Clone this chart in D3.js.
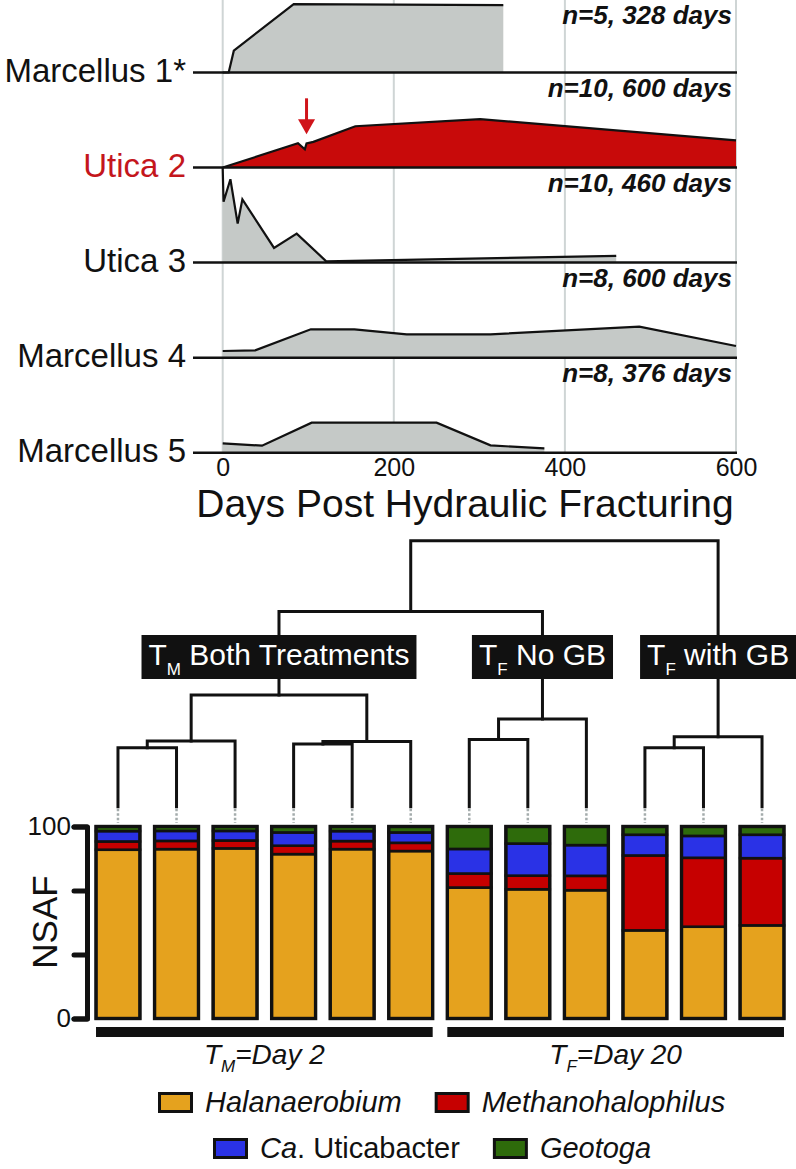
<!DOCTYPE html>
<html><head><meta charset="utf-8">
<script src="https://cdn.jsdelivr.net/npm/d3@7"></script>
<style>
html,body{margin:0;padding:0;background:#fff;}
svg{display:block;font-family:"Liberation Sans",Arial,Helvetica,sans-serif;}
</style></head><body>
<svg id="chart" width="796" height="1169"></svg>
<script>
// ---------------- top panel data ----------------
const ridgeNames = ["Marcellus 1*", "Utica 2", "Utica 3", "Marcellus 4", "Marcellus 5"];
const ridgeNotes = ["n=5, 328 days", "n=10, 600 days", "n=10, 460 days", "n=8, 600 days", "n=8, 376 days"];
const ridgeHighlight = [false, true, false, false, false];
const marcellus1 = [[0,0],[7,0],[13,23],[83,72],[328,71]];
const utica2 = [[0,0],[88,25.6],[96,19.3],[98,25.5],[106,27],[155,43.5],[301,51],[600,28.7]];
const utica3 = [[0,99.7],[1,64],[9,87.7],[17.5,41],[23,66.6],[60,15.5],[86.5,30.5],[121,1.4],[460,7]];
const marcellus4 = [[0,7],[38,7.7],[103,29.8],[154,29.8],[215,24.5],[313,24.5],[487,32.6],[600,12.3]];
const marcellus5 = [[0,9.8],[46,7.4],[104,31.6],[250,31.6],[313,7.7],[376,4.5]];
const ridgeSeries = [marcellus1, utica2, utica3, marcellus4, marcellus5];
const dayTicks = [0, 200, 400, 600];
const arrowDay = 98;
const xTitle = "Days Post Hydraulic Fracturing";

// ---------------- bottom panel data ----------------
const samples = ["M1","M2","M3","M4","M5","M6","F1","F2","F3","G1","G2","G3"];
const taxa = ["Halanaerobium","Methanohalophilus","Uticabacter","Geotoga"];
const halanaerobium     = [87.9, 88.2, 88.6, 85.6, 88.2, 87.2, 68.2, 67.3, 66.8, 45.9, 47.8, 48.5];
const methanohalophilus = [ 4.3,  4.3,  4.1,  4.4,  4.2,  4.3,  7.3,  7.1,  7.5, 39.0, 35.9, 35.0];
const uticabacter       = [ 5.4,  5.2,  5.0,  6.9,  5.2,  5.4, 12.8, 16.7, 16.0, 10.8, 11.4, 12.2];
const geotoga           = [ 2.4,  2.3,  2.3,  3.1,  2.4,  3.1, 11.7,  8.9,  9.7,  4.3,  4.9,  4.3];
const taxaColors = ["#e5a21e", "#c60000", "#2a32e6", "#2e6b0b"];
const nsafTicks = [0, 100/3, 200/3, 100];
const nsafLabels = ["0", "", "", "100"];
const groupMain = ["T", "T"];
const groupSub = ["M", "F"];
const groupRest = ["=Day 2", "=Day 20"];
const groupFirst = ["M1", "F1"];
const groupLast = ["M6", "G3"];
// dendrogram (merge heights, relative distance)
const tree = {h:1.0, children:[
  {h:0.734, children:[
    {h:0.42, label:["T","M"," Both Treatments"], children:[
      {h:0.247, children:[{h:0.222, children:[{leaf:"M1"},{leaf:"M2"}]},{leaf:"M3"}]},
      {h:0.245, children:[{h:0.236, children:[{leaf:"M4"},{leaf:"M5"}]},{leaf:"M6"}]}
    ]},
    {h:0.33, label:["T","F"," No GB"], children:[
      {h:0.253, children:[{leaf:"F1"},{leaf:"F2"}]},{leaf:"F3"}
    ]}
  ]},
  {h:0.263, label:["T","F"," with GB"], children:[
    {h:0.222, children:[{leaf:"G1"},{leaf:"G2"}]},{leaf:"G3"}
  ]}
]};
const legendRows = [
  [{k:0, parts:[["Halanaerobium","italic"]]}, {k:1, parts:[["Methanohalophilus","italic"]]}],
  [{k:2, parts:[["Ca","italic"],[". Uticabacter","normal"]]}, {k:3, parts:[["Geotoga","italic"]]}]
];

// ---------------- drawing ----------------
const svg = d3.select("#chart");
const INK = "#111";

// ===== ridgeline panel =====
const x = d3.scaleLinear().domain([0, 600]).range([222.7, 736]);
const yBase = d3.scalePoint().domain(ridgeNames).range([72.5, 452.7]);
const yH = d3.scaleLinear().domain([0, 100]).range([0, 95]);

const topG = svg.append("g");
topG.selectAll("line.grid").data(dayTicks).join("line")
  .attr("x1", d => x(d)).attr("x2", d => x(d))
  .attr("y1", 0).attr("y2", yBase(ridgeNames[4]))
  .attr("stroke", "#cfd5d5").attr("stroke-width", 2);

ridgeNames.forEach((name, i) => {
  const b = yBase(name);
  const data = ridgeSeries[i];
  const area = d3.area().x(d => x(d[0])).y0(b).y1(d => b - yH(d[1]));
  const line = d3.line().x(d => x(d[0])).y(d => b - yH(d[1]));
  topG.append("path").attr("d", area(data))
    .attr("fill", ridgeHighlight[i] ? "#c80a0a" : "#c5c9c7");
  topG.append("path").attr("d", line(data))
    .attr("fill", "none").attr("stroke", INK).attr("stroke-width", 2.2)
    .attr("stroke-linejoin", "miter");
  topG.append("line").attr("x1", 193).attr("x2", 737).attr("y1", b).attr("y2", b)
    .attr("stroke", INK).attr("stroke-width", 2.5);
  topG.append("text").attr("x", 186).attr("y", b + 9)
    .attr("text-anchor", "end").attr("font-size", 33)
    .attr("fill", ridgeHighlight[i] ? "#c4161c" : INK).text(name);
  topG.append("text").attr("x", 732).attr("y", Math.max(b - 71, 24))
    .attr("text-anchor", "end").attr("font-size", 26)
    .attr("font-weight", "bold").attr("font-style", "italic")
    .attr("fill", INK).text(ridgeNotes[i]);
});

// red arrow over Utica 2
{
  const b = yBase(ridgeNames[1]);
  const pt = utica2.find(d => d[0] === arrowDay);
  const ax = x(arrowDay), tip = b - yH(pt[1]) - 9;
  topG.append("line").attr("x1", ax).attr("x2", ax).attr("y1", tip - 36).attr("y2", tip - 12)
    .attr("stroke", "#d0141a").attr("stroke-width", 3);
  topG.append("path").attr("d", `M${ax-8.5},${tip-15}L${ax+8.5},${tip-15}L${ax},${tip}Z`)
    .attr("fill", "#d0141a");
}

const xAxis = topG.append("g").attr("transform", `translate(0,${yBase(ridgeNames[4])})`)
  .call(d3.axisBottom(x).tickValues(dayTicks).tickSize(0).tickPadding(5.5).tickFormat(d3.format("d")));
xAxis.select(".domain").remove();
xAxis.selectAll("text").attr("font-size", 25).attr("fill", INK)
  .attr("font-family", "Liberation Sans, Arial, sans-serif");

topG.append("text").attr("x", 465).attr("y", 517).attr("text-anchor", "middle")
  .attr("font-size", 39).attr("fill", INK).text(xTitle);

// ===== bar panel =====
const xb = d3.scaleBand().domain(samples).range([88.7, 791.3]).paddingInner(0.25).paddingOuter(0.125);
const yB = d3.scaleLinear().domain([0, 100]).range([1018.5, 826.5]);
const bw = xb.bandwidth();
const cx = s => xb(s) + bw / 2;

const rows = samples.map((s, i) => ({sample: s,
  Halanaerobium: halanaerobium[i], Methanohalophilus: methanohalophilus[i],
  Uticabacter: uticabacter[i], Geotoga: geotoga[i]}));
const stacked = d3.stack().keys(taxa)(rows);
const color = d3.scaleOrdinal().domain(taxa).range(taxaColors);

const bars = svg.append("g");
bars.selectAll("g.layer").data(stacked).join("g").attr("fill", d => color(d.key))
  .selectAll("rect").data(d => d).join("rect")
  .attr("x", d => xb(d.data.sample)).attr("width", bw)
  .attr("y", d => yB(d[1])).attr("height", d => yB(d[0]) - yB(d[1]))
  .attr("stroke", INK).attr("stroke-width", 2.6);
bars.selectAll("rect.outline").data(samples).join("rect").attr("class", "outline")
  .attr("x", d => xb(d)).attr("width", bw).attr("y", yB(100)).attr("height", yB(0) - yB(100))
  .attr("fill", "none").attr("stroke", INK).attr("stroke-width", 3.4);

// NSAF axis
const yAxis = svg.append("g").attr("transform", "translate(87,0)")
  .call(d3.axisLeft(yB).tickValues(nsafTicks).tickSize(13).tickSizeOuter(13).tickPadding(3)
    .tickFormat((d, i) => nsafLabels[i]));
yAxis.select(".domain").attr("stroke", INK).attr("stroke-width", 5)
  .attr("stroke-linecap", "round").attr("stroke-linejoin", "round");
yAxis.selectAll(".tick line").attr("stroke", INK).attr("stroke-width", 5).attr("stroke-linecap", "round");
yAxis.selectAll("text").attr("font-size", 26).attr("fill", INK)
  .attr("font-family", "Liberation Sans, Arial, sans-serif");
svg.append("text").attr("transform", "translate(57,922) rotate(-90)")
  .attr("text-anchor", "middle").attr("font-size", 35).attr("fill", INK).text("NSAF");

// group bars + labels
groupMain.forEach((g, i) => {
  const x0 = xb(groupFirst[i]), x1 = xb(groupLast[i]) + bw;
  svg.append("rect").attr("x", x0).attr("y", 1027).attr("width", x1 - x0).attr("height", 10).attr("fill", INK);
  const t = svg.append("text").attr("x", (x0 + x1) / 2).attr("y", 1064)
    .attr("text-anchor", "middle").attr("font-size", 28).attr("font-style", "italic").attr("fill", INK);
  t.append("tspan").text(g);
  t.append("tspan").attr("font-size", 17).attr("dy", 8).text(groupSub[i]);
  t.append("tspan").attr("dy", -8).text(groupRest[i]);
});

// ===== dendrogram =====
const yT = d3.scaleLinear().domain([0, 1]).range([806.7, 540.7]);
const root = d3.hierarchy(tree);
root.eachAfter(n => {
  if (!n.children) n.x = cx(n.data.leaf);
  else n.x = (n.children[0].x + n.children[n.children.length - 1].x) / 2;
  n.y = yT(n.data.h || 0);
});
const dg = svg.append("g");
dg.selectAll("path.link").data(root.descendants().filter(n => n.children)).join("path")
  .attr("d", n => {
    const a = n.children[0], z = n.children[n.children.length - 1];
    let p = `M${a.x},${a.y}V${n.y}H${z.x}V${z.y}`;
    n.children.slice(1, -1).forEach(c => { p += `M${c.x},${n.y}V${c.y}`; });
    return p;
  })
  .attr("fill", "none").attr("stroke", INK).attr("stroke-width", 3).attr("stroke-linecap", "square");
dg.selectAll("line.leaf").data(root.leaves()).join("line")
  .attr("x1", d => d.x).attr("x2", d => d.x).attr("y1", yT(0) + 2).attr("y2", 823)
  .attr("stroke", "#a4acac").attr("stroke-width", 2.5).attr("stroke-dasharray", "2.5,2");

// labelled cluster boxes
root.descendants().filter(n => n.data.label).forEach(n => {
  const g = dg.append("g");
  const rect = g.append("rect").attr("fill", INK);
  const t = g.append("text").attr("x", n.x).attr("y", 665).attr("text-anchor", "middle")
    .attr("font-size", 30).attr("fill", "#fff");
  t.append("tspan").text(n.data.label[0]);
  t.append("tspan").attr("font-size", 17).attr("dy", 10).text(n.data.label[1]);
  t.append("tspan").attr("dy", -10).text(n.data.label[2]);
  const bb = t.node().getBBox();
  rect.attr("x", bb.x - 7).attr("width", bb.width + 14).attr("y", 635).attr("height", 44);
});

// ===== legend =====
const rowStart = [158, 213];
const rowBase = [1112, 1158];
legendRows.forEach((row, r) => {
  let cxl = rowStart[r];
  row.forEach(item => {
    svg.append("rect").attr("x", cxl + 1.5).attr("y", rowBase[r] - 18.5).attr("width", 32).attr("height", 18)
      .attr("fill", taxaColors[item.k]).attr("stroke", INK).attr("stroke-width", 3);
    const t = svg.append("text").attr("x", cxl + 47).attr("y", rowBase[r]).attr("font-size", 29).attr("fill", INK);
    item.parts.forEach(p => t.append("tspan").attr("font-style", p[1]).text(p[0]));
    cxl = cxl + 47 + t.node().getComputedTextLength() + 33;
  });
});
</script>
</body></html>
